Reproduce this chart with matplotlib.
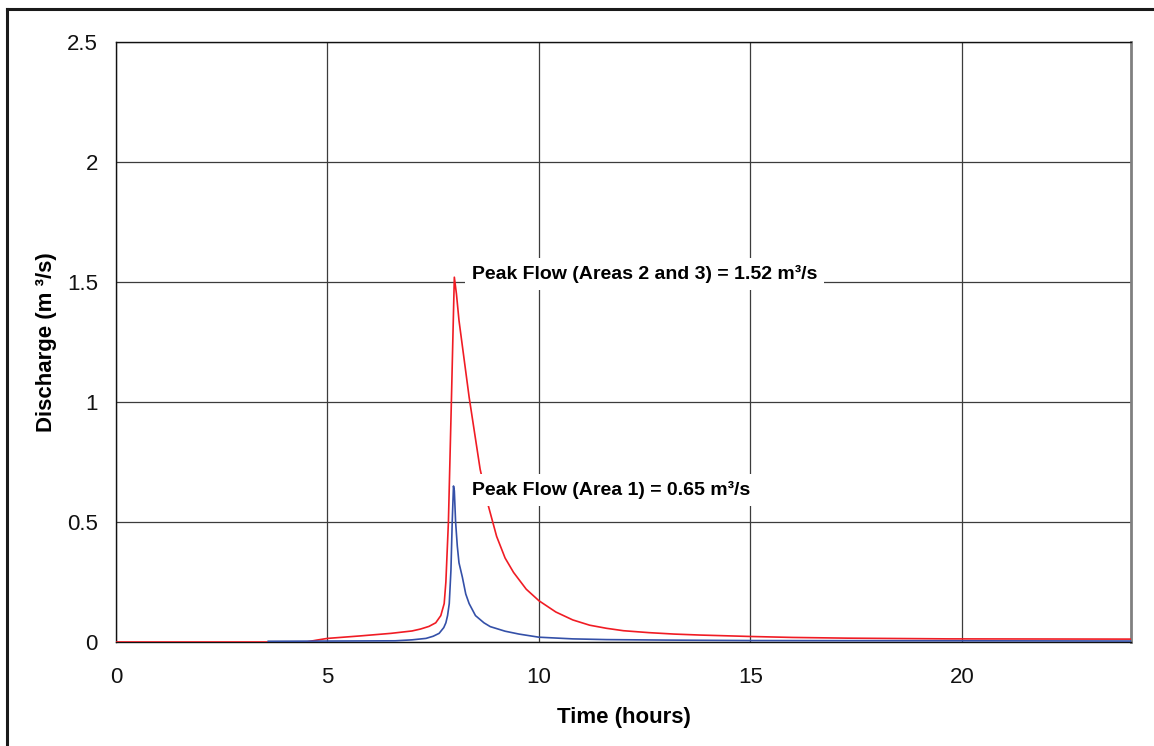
import matplotlib
matplotlib.use("Agg")
import matplotlib.pyplot as plt
from matplotlib.lines import Line2D

# Hydrograph data: time (hours) and discharge (m3/s)
t_areas23 = [0, 4.5, 4.75, 5.0, 5.75, 6.5, 7.0, 7.2, 7.4, 7.56, 7.68, 7.76, 7.8,
             7.86, 7.93, 7.97, 8.0, 8.05, 8.11, 8.35, 8.61, 8.8, 9.0, 9.2, 9.4,
             9.7, 10.0, 10.4, 10.8, 11.2, 11.6, 12.0, 12.6, 13.2, 13.8, 15.0,
             16.0, 17.3, 19.7, 24.0]
q_areas23 = [0, 0, 0.008, 0.015, 0.025, 0.036, 0.046, 0.054, 0.065, 0.08, 0.11,
             0.16, 0.25, 0.50, 1.0, 1.3, 1.52, 1.45, 1.34, 1.02, 0.72, 0.57, 0.44,
             0.35, 0.29, 0.22, 0.172, 0.125, 0.092, 0.07, 0.057, 0.047, 0.039,
             0.033, 0.029, 0.023, 0.019, 0.016, 0.013, 0.012]

t_area1 = [3.6, 6.6, 7.0, 7.33, 7.5, 7.64, 7.75, 7.8, 7.84, 7.88, 7.92, 7.95,
           7.98, 8.0, 8.03, 8.07, 8.11, 8.19, 8.27, 8.35, 8.5, 8.7, 8.85,
           9.2, 9.53, 10.0, 10.8, 11.6, 13.0, 15.0, 20.0, 24.0]
q_area1 = [0.003, 0.005, 0.009, 0.015, 0.024, 0.036, 0.06, 0.08, 0.11, 0.16,
           0.30, 0.50, 0.65, 0.63, 0.50, 0.40, 0.33, 0.27, 0.20, 0.16, 0.11,
           0.08, 0.064, 0.045, 0.033, 0.02, 0.013, 0.010, 0.008, 0.006,
           0.005, 0.004]

peak_areas23 = 1.52
peak_area1 = 0.65

x_ticks = [0, 5, 10, 15, 20]
y_ticks = [0, 0.5, 1, 1.5, 2, 2.5]
y_tick_labels = ["0", "0.5", "1", "1.5", "2", "2.5"]

plt.rcParams["font.family"] = ["Liberation Sans", "DejaVu Sans"]

fig = plt.figure(figsize=(11.54, 7.46), dpi=100)
ax = fig.add_axes([116 / 1154, 104 / 746, 1015 / 1154, 600 / 746])

ax.plot(t_areas23, q_areas23, color="#f01c24", lw=1.2, zorder=3)
ax.plot(t_area1, q_area1, color="#3450a8", lw=1.2, zorder=3)

ax.set_xlim(0, 24)
ax.set_ylim(0, 2.5)
ax.set_xticks(x_ticks)
ax.set_yticks(y_ticks)
ax.set_yticklabels(y_tick_labels)
ax.tick_params(length=0, labelsize=16, colors="#111111")
ax.tick_params(axis="x", pad=18)
ax.tick_params(axis="y", pad=13)

ax.grid(True, color="#3c3c3c", lw=0.9)
ax.set_axisbelow(True)
for side in ("left", "top", "bottom"):
    ax.spines[side].set_color("#111111")
    ax.spines[side].set_linewidth(1.0)
ax.spines["right"].set_color("#808080")
ax.spines["right"].set_linewidth(2.0)

ax.set_xlabel("Time (hours)", fontsize=16, fontweight="bold", labelpad=14)
ax.set_ylabel("Discharge (m \u00b3/s)", fontsize=16, fontweight="bold", labelpad=7.5)

box = dict(facecolor="white", edgecolor="none", pad=5)
ax.text(8.41, peak_areas23 + 0.015, f"Peak Flow (Areas 2 and 3) = {peak_areas23:.2f} m\u00b3/s",
        fontsize=14, fontweight="bold", va="center", ha="left", bbox=box, zorder=4)
ax.text(8.41, peak_area1 - 0.015, f"Peak Flow (Area 1) = {peak_area1:.2f} m\u00b3/s",
        fontsize=14, fontweight="bold", va="center", ha="left", bbox=box, zorder=4)

# Frame lines along the top and left edges of the figure
fig.add_artist(Line2D([7 / 1154, 1.0], [1 - 9 / 746, 1 - 9 / 746],
                      transform=fig.transFigure, color="#1a1a1a", lw=2.2))
fig.add_artist(Line2D([7 / 1154, 7 / 1154], [0, 1 - 9 / 746],
                      transform=fig.transFigure, color="#1a1a1a", lw=2.2))

fig.savefig("out.png", dpi=100)
